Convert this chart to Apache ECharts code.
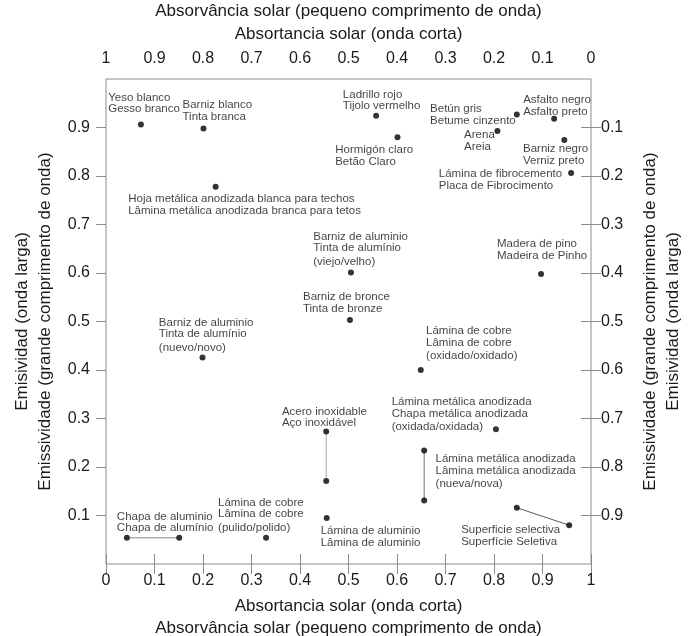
<!DOCTYPE html>
<html><head><meta charset="utf-8">
<script src="https://cdn.jsdelivr.net/npm/echarts@6/dist/echarts.min.js"></script>
<style>html,body{margin:0;padding:0;background:#fff}#c{width:690px;height:636px}</style>
</head><body><div id="c"></div>
<script>
// ---- data ----
const materials = [
  "Yeso blanco\nGesso branco",
  "Barniz blanco\nTinta branca",
  "Hoja metálica anodizada blanca para techos\nLâmina metálica anodizada branca para tetos",
  "Ladrillo rojo\nTijolo vermelho",
  "Hormigón claro\nBetão Claro",
  "Betún gris\nBetume cinzento",
  "Arena\nAreia",
  "Asfalto negro\nAsfalto preto",
  "Barniz negro\nVerniz preto",
  "Lámina de fibrocemento\nPlaca de Fibrocimento",
  "Madera de pino\nMadeira de Pinho",
  "Barniz de aluminio\nTinta de alumínio\n(viejo/velho)",
  "Barniz de bronce\nTinta de bronze",
  "Barniz de aluminio\nTinta de alumínio\n(nuevo/novo)",
  "Lámina de cobre\nLâmina de cobre\n(oxidado/oxidado)",
  "Lámina metálica anodizada\nChapa metálica anodizada\n(oxidada/oxidada)",
  "Acero inoxidable\nAço inoxidável",
  "Lámina metálica anodizada\nLâmina metálica anodizada\n(nueva/nova)",
  "Lámina de aluminio\nLâmina de aluminio",
  "Superficie selectiva\nSuperfície Seletiva",
  "Chapa de aluminio\nChapa de alumínio",
  "Lámina de cobre\nLâmina de cobre\n(pulido/polido)"
];
const absorptance = [0.072, 0.201, 0.226, 0.557, 0.601, 0.847, 0.807, 0.924, 0.945, 0.959, 0.897,
  0.505, 0.503, 0.199, 0.649, 0.804, 0.454, 0.656, 0.455, 0.955, 0.043, 0.330];
const emissivity = [0.906, 0.898, 0.778, 0.924, 0.880, 0.927, 0.893, 0.918, 0.874, 0.806, 0.598,
  0.601, 0.503, 0.426, 0.400, 0.278, 0.273, 0.234, 0.095, 0.080, 0.054, 0.054];
// second end of materials given as a range
const rangeOf = [16, 17, 19, 20];
const rangeAbsorptance = [0.454, 0.656, 0.847, 0.151];
const rangeEmissivity = [0.171, 0.131, 0.116, 0.054];
const tickValues = [0.1, 0.2, 0.3, 0.4, 0.5, 0.6, 0.7, 0.8, 0.9];

// ---- layout / style ----
const labelOffsets = [[-32.7,-32.8],[-21,-29],[-87.4,6.5],[-33.3,-26.8],[-62.3,7],[-86.7,-11],[-33.3,-1.5],
  [-31,-24.5],[-41.3,3.2],[-132.3,-5],[-44,-35.8],[-37.7,-41.5],[-47,-28.8],[-43.7,-40.4],[5.3,-44.8],
  [-104.3,-33],[-44.3,-25.8],[11.4,2.8],[-6,7.2],[-108,-0.8],[-10,-26.8],[-48,-40.8]];
const rangeColors = ['#a8a8a8', '#707070', '#555555', '#8a8a8a'];
const FONT = '"Liberation Sans", Arial, sans-serif';
const GRAY = '#8c8c8c';
const TXT = '#1a1a1a';

const chart = echarts.init(document.getElementById('c'), null, {renderer: 'canvas'});

function richLabel(s) {
  return s.split('\n').map(l => l.startsWith('(') ? '{p|' + l + '}' : '{a|' + l + '}').join('\n');
}

const series = [];
rangeOf.forEach((idx, k) => {
  series.push({
    type: 'line', xAxisIndex: 0, yAxisIndex: 0, silent: true, symbol: 'none', z: 1,
    lineStyle: {color: rangeColors[k], width: 1},
    data: [[absorptance[idx], emissivity[idx]], [rangeAbsorptance[k], rangeEmissivity[k]]]
  });
});
series.push({
  type: 'scatter', xAxisIndex: 0, yAxisIndex: 0, symbolSize: 6, z: 3,
  itemStyle: {color: '#000'},
  data: materials.map((m, i) => ({
    value: [absorptance[i], emissivity[i]],
    name: m,
    label: {
      show: true, position: 'inside', offset: labelOffsets[i], align: 'left', verticalAlign: 'top',
      color: '#111', textBorderWidth: 0,
      formatter: () => richLabel(m),
      rich: {
        a: {fontSize: 11.5, lineHeight: 11.5, fontFamily: FONT, color: '#111'},
        p: {fontSize: 11.5, lineHeight: 15, fontFamily: FONT, color: '#111'}
      }
    }
  }))
});
series.push({
  type: 'scatter', xAxisIndex: 0, yAxisIndex: 0, symbolSize: 6, z: 3,
  itemStyle: {color: '#000'},
  data: rangeAbsorptance.map((x, k) => [x, rangeEmissivity[k]])
});

const common = {
  type: 'value', min: 0, max: 1, interval: 0.1,
  axisLine: {show: false}, splitLine: {show: false}
};
const tickLbl = {fontSize: 16, color: TXT, fontFamily: FONT};
const nameStyle = {fontSize: 17, lineHeight: 23, color: TXT, fontFamily: FONT};

chart.setOption({
  animation: false,
  backgroundColor: '#fff',
  grid: {left: 106, top: 79, width: 485, height: 485, show: true, borderColor: GRAY, borderWidth: 1,
         containLabel: false, outerBoundsMode: 'none'},
  xAxis: [
    Object.assign({}, common, {
      position: 'bottom',
      axisTick: {inside: true, length: 10, lineStyle: {color: GRAY}},
      axisLabel: Object.assign({margin: 9}, tickLbl),
      name: 'Absortancia solar (onda corta)\nAbsorvância solar (pequeno comprimento de onda)',
      nameLocation: 'middle', nameGap: 31, nameTextStyle: Object.assign({}, nameStyle, {lineHeight: 22})
    }),
    Object.assign({}, common, {
      position: 'top', inverse: true,
      axisTick: {inside: true, length: 10, lineStyle: {color: GRAY}},
      axisLabel: Object.assign({margin: 12}, tickLbl),
      name: 'Absorvância solar (pequeno comprimento de onda)\nAbsortancia solar (onda corta)',
      nameLocation: 'middle', nameGap: 28, nameTextStyle: nameStyle
    })
  ],
  yAxis: [
    Object.assign({}, common, {
      position: 'left',
      axisTick: {inside: false, length: 10, lineStyle: {color: GRAY}, customValues: tickValues},
      axisLabel: Object.assign({margin: 16, customValues: tickValues}, tickLbl),
      name: 'Emisividad (onda larga)\nEmissividade (grande comprimento de onda)',
      nameLocation: 'middle', nameGap: 43, nameTextStyle: nameStyle
    }),
    Object.assign({}, common, {
      position: 'left',
      axisTick: {inside: true, length: 10, lineStyle: {color: GRAY}, customValues: tickValues},
      axisLabel: {show: false}
    }),
    Object.assign({}, common, {
      position: 'right', inverse: true,
      axisTick: {inside: false, length: 10, lineStyle: {color: GRAY}, customValues: tickValues},
      axisLabel: Object.assign({margin: 10, customValues: tickValues}, tickLbl),
      name: 'Emissividade (grande comprimento de onda)\nEmisividad (onda larga)',
      nameLocation: 'middle', nameGap: 48, nameTextStyle: nameStyle
    }),
    Object.assign({}, common, {
      position: 'right', inverse: true,
      axisTick: {inside: true, length: 10, lineStyle: {color: GRAY}, customValues: tickValues},
      axisLabel: {show: false}
    })
  ],
  series: series
});
</script>
</body></html>
